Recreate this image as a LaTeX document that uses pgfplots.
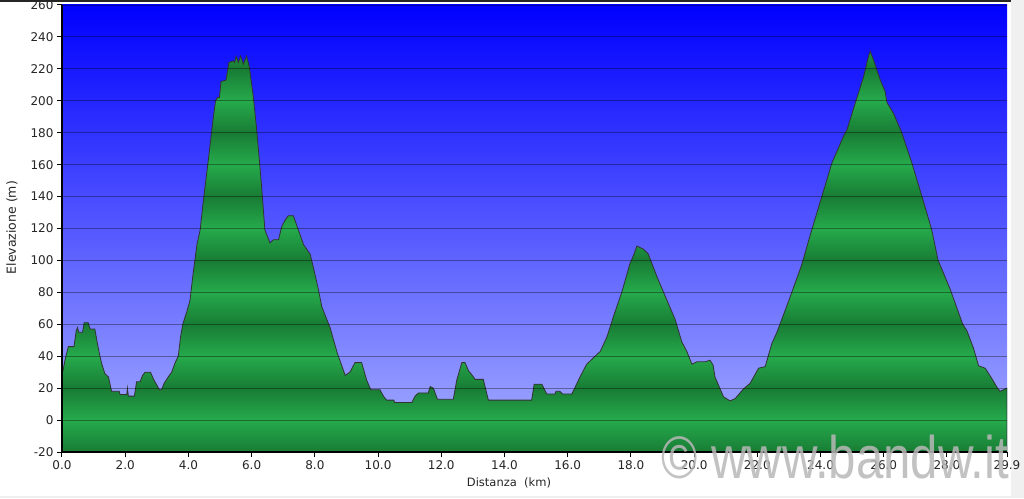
\documentclass[border=0pt]{standalone}
\usepackage{fontspec}
\setmainfont{DejaVu Sans}
\newfontfamily\wmfont{Liberation Sans}
\usepackage{pgfplots}
\usepackage{pgfplotstable}
\pgfplotsset{compat=1.18}
\definecolor{gdark}{RGB}{24,124,52}
\definecolor{glight}{RGB}{38,170,76}
\definecolor{btop}{RGB}{0,0,255}
\definecolor{bbot}{RGB}{168,176,255}
% bands: light at 0,40,80,...; dark at -20,20,60,... (path bbox y: -20 .. 231)
\pgfdeclareverticalshading{greenbands}{100bp}{%
color(0bp)=(gdark); color(25bp)=(gdark);
color(28.984bp)=(glight); color(32.968bp)=(gdark);
color(36.952bp)=(glight); color(40.936bp)=(gdark);
color(44.920bp)=(glight); color(48.904bp)=(gdark);
color(52.888bp)=(glight); color(56.873bp)=(gdark);
color(60.857bp)=(glight); color(64.841bp)=(gdark);
color(68.825bp)=(glight); color(72.809bp)=(gdark);
color(76.793bp)=(glight); color(100bp)=(glight)}

\pgfplotstableread{
d e
0 -20
0 28
0.1 38
0.2 46
0.38 46
0.45 56
0.49 58
0.53 55
0.65 55
0.7 61
0.83 61
0.89 57
1.04 57
1.12 48
1.2 40
1.26 35
1.36 29
1.47 27
1.57 18
1.81 18
1.84 16
2.05 16
2.07 20
2.1 15
2.29 15
2.36 24
2.47 24
2.55 28
2.63 30
2.8 30
2.91 25
3.0 22
3.08 19
3.15 19
3.23 23
3.36 27
3.47 30
3.58 36
3.68 40
3.75 52
3.82 60
3.95 68
4.05 75
4.15 92
4.27 110
4.37 119
4.5 142
4.63 163
4.79 190
4.86 200
4.92 202
4.98 202
5.03 212
5.19 213
5.28 224
5.42 225
5.46 224
5.51 228
5.58 224
5.65 228
5.74 223
5.84 228
5.93 221
6.05 203
6.16 182
6.3 150
6.42 119
6.58 111
6.69 113
6.85 113
6.95 121
7.05 125
7.16 128
7.32 128
7.48 119
7.64 110
7.85 104
7.95 96
8.11 82
8.22 71
8.48 58
8.71 42
8.96 28
9.11 30
9.27 36
9.48 36
9.64 25
9.77 19
10.06 19
10.17 15
10.27 12.5
10.5 12.5
10.52 11
11.07 11
11.17 15
11.28 17
11.59 17
11.65 21
11.75 20
11.88 13
12.38 13
12.49 25
12.65 36
12.75 36
12.86 31
13.02 27
13.07 25.5
13.33 25.5
13.49 12.5
14.86 12.5
14.94 22.5
15.18 22.5
15.34 16.3
15.6 16.3
15.63 18
15.75 18
15.84 16.3
16.13 16.3
16.39 27
16.6 35
16.71 37
16.92 41
17.03 43
17.24 52
17.45 65
17.71 80
17.97 98
18.1 104
18.19 109
18.4 107
18.55 104
18.82 90
19.14 75
19.4 63
19.61 49
19.77 43
19.93 35
20.09 36.5
20.35 36.5
20.5 37.5
20.6 34.5
20.66 27
20.93 14.6
21.14 12
21.3 13.5
21.56 19.5
21.77 23
22.04 32.5
22.25 33.5
22.46 48
22.62 55
23.0 75
23.4 97
23.72 119
24.04 140
24.36 161
24.73 178
24.84 182
25.09 198
25.36 215
25.52 228
25.57 231
25.67 226
25.89 213
26.04 206
26.1 199
26.31 192
26.57 180
26.89 161
27.21 140
27.52 119
27.72 100
27.85 94
28.1 82
28.5 60
28.63 56
28.84 45
29.0 34
29.21 32.5
29.42 26
29.6 20
29.68 18
29.84 19.5
29.9 20
29.9 -20
}\profile

\begin{document}
\begin{tikzpicture}[x=1pt,y=1pt]
\useasboundingbox (0,0) rectangle (1024,498);
\fill[white] (0,0) rectangle (1024,498);
\fill[black!6] (1011,0) rectangle (1024,498);
\fill[black!6] (0,0) rectangle (1024,2);
\fill[black!85] (0,496) rectangle (1011,498);
\begin{axis}[
  at={(62pt,46pt)}, anchor=south west,
  scale only axis, width=945pt, height=447pt,
  xmin=0, xmax=29.9, ymin=-20, ymax=260,
  xtick={0,2,4,6,8,10,12,14,16,18,20,22,24,26,28,29.9},
  ytick={-20,0,20,40,60,80,100,120,140,160,180,200,220,240,260},
  xticklabel style={/pgf/number format/.cd, fixed, fixed zerofill, precision=1},
  yticklabel style={/pgf/number format/.cd, fixed, precision=0},
  /pgf/number format/assume math mode=true,
  tick label style={font=\fontsize{12}{14}\selectfont, text=black!85},
  axis x line*=bottom, axis y line*=left,
  axis line style={black, line width=2pt},
  tick align=outside, major tick length=5pt,
  tick style={black, line width=1pt},
  ymajorgrids, major grid style={black, opacity=0.36, line width=0.9pt},
  axis on top,
  axis background/.style={shade, top color=btop, bottom color=bbot},
  xlabel={Distanza\ \ (km)},
  xlabel style={at={(axis description cs:0.473,-0.069)}, anchor=center, font=\fontsize{11.5}{13}\selectfont, text=black!85},
  ylabel={Elevazione (m)},
  ylabel style={at={(axis description cs:-0.0529,0.502)}, anchor=center, font=\fontsize{12.5}{14}\selectfont, text=black!85},
]
\addplot[shade, shading=greenbands, draw=black!80, line width=0.8pt] table[x=d, y=e] {\profile};
\end{axis}
\node[anchor=base west, inner sep=0pt, text=black!28, opacity=0.85] at (661,20)
  {\scalebox{0.82}[1]{\wmfont\fontsize{60}{60}\selectfont © www.bandw.it}};
\end{tikzpicture}
\end{document}
